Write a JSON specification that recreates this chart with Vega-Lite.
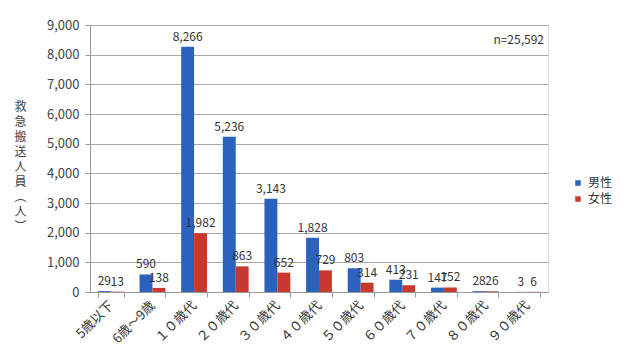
{
  "$schema": "https://vega.github.io/schema/vega-lite/v6.json",
  "width": 458,
  "height": 267,
  "autosize": {"type": "none"},
  "padding": {"left": 90, "top": 25, "right": 92, "bottom": 61},
  "background": "white",
  "title": {"text": "n=25,592", "anchor": "end", "frame": "group", "orient": "top", "dy": 32, "dx": -4, "fontSize": 12, "fontWeight": "normal", "color": "#333", "font": "Noto Sans CJK JP"},
  "data": {"values": [
    {"age": "5歳以下", "sex": "男性", "value": 29},
    {"age": "5歳以下", "sex": "女性", "value": 13},
    {"age": "6歳～9歳", "sex": "男性", "value": 590},
    {"age": "6歳～9歳", "sex": "女性", "value": 138},
    {"age": "１０歳代", "sex": "男性", "value": 8266},
    {"age": "１０歳代", "sex": "女性", "value": 1982},
    {"age": "２０歳代", "sex": "男性", "value": 5236},
    {"age": "２０歳代", "sex": "女性", "value": 863},
    {"age": "３０歳代", "sex": "男性", "value": 3143},
    {"age": "３０歳代", "sex": "女性", "value": 652},
    {"age": "４０歳代", "sex": "男性", "value": 1828},
    {"age": "４０歳代", "sex": "女性", "value": 729},
    {"age": "５０歳代", "sex": "男性", "value": 803},
    {"age": "５０歳代", "sex": "女性", "value": 314},
    {"age": "６０歳代", "sex": "男性", "value": 413},
    {"age": "６０歳代", "sex": "女性", "value": 231},
    {"age": "７０歳代", "sex": "男性", "value": 147},
    {"age": "７０歳代", "sex": "女性", "value": 152},
    {"age": "８０歳代", "sex": "男性", "value": 28},
    {"age": "８０歳代", "sex": "女性", "value": 26},
    {"age": "９０歳代", "sex": "男性", "value": 3},
    {"age": "９０歳代", "sex": "女性", "value": 6}
  ]},
  "encoding": {
    "x": {"field": "age", "type": "nominal",
      "sort": ["5歳以下","6歳～9歳","１０歳代","２０歳代","３０歳代","４０歳代","５０歳代","６０歳代","７０歳代","８０歳代","９０歳代"],
      "scale": {"paddingInner": 0.38, "paddingOuter": 0.19},
      "axis": {"title": null, "labelAngle": -45, "labelAlign": "right", "labelBaseline": "middle", "labelFontSize": 13, "labelColor": "#333", "labelFont": "Noto Sans CJK JP", "labelPadding": 6, "domainColor": "#999", "tickColor": "#999", "tickBand": "extent", "tickSize": 5}},
    "xOffset": {"field": "sex", "type": "nominal", "sort": ["男性","女性"], "scale": {"paddingInner": 0, "paddingOuter": 0}},
    "y": {"field": "value", "type": "quantitative",
      "scale": {"domain": [0, 9000], "nice": false},
      "axis": {"values": [0,1000,2000,3000,4000,5000,6000,7000,8000,9000], "labelExpr": "format(datum.value, ',')", "labelFontSize": 13, "labelColor": "#444", "labelFont": "Noto Sans CJK JP", "labelPadding": 6, "domainColor": "#999", "tickColor": "#999", "tickSize": 5, "gridColor": "#a8a8a8", "gridWidth": 1,
        "title": ["救","急","搬","送","人","員","︵","人","︶"], "titleAngle": 0, "titleX": -70, "titleY": 76, "titleAlign": "center", "titleBaseline": "top", "titleFontSize": 12, "titleLineHeight": 15, "titleFontWeight": "normal", "titleColor": "#444", "titleFont": "Noto Sans CJK JP"}}
  },
  "layer": [
    {"mark": {"type": "bar"},
     "encoding": {"color": {"field": "sex", "type": "nominal", "sort": ["男性","女性"],
       "scale": {"domain": ["男性","女性"], "range": ["#2a62bd", "#c8382f"]},
       "legend": {"title": null, "orient": "none", "legendX": 482, "legendY": 152, "symbolType": "square", "symbolSize": 30, "labelFontSize": 12, "labelColor": "#333", "labelFont": "Noto Sans CJK JP", "rowPadding": 4, "symbolStrokeWidth": 0}}}},
    {"mark": {"type": "text", "baseline": "bottom", "dy": -3, "fontSize": 12, "color": "#333", "font": "Noto Sans CJK JP"},
     "encoding": {"text": {"field": "value", "type": "quantitative", "format": ","}}}
  ]
}
